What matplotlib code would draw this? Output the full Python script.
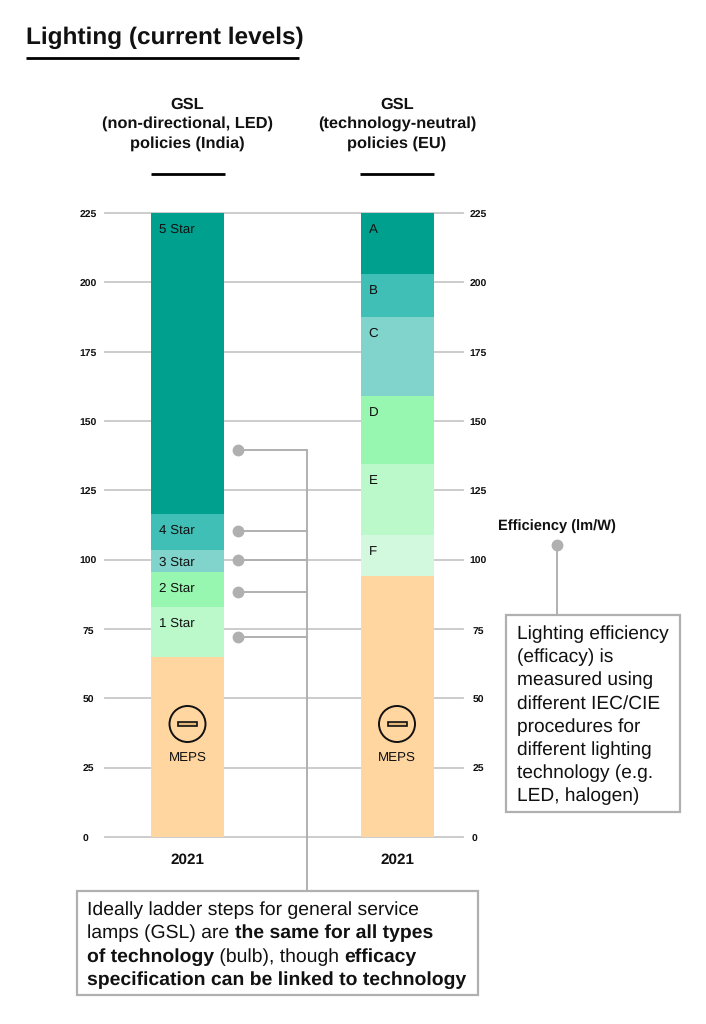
import matplotlib
matplotlib.use("Agg")
import numpy as np
import matplotlib.pyplot as plt
from matplotlib.patches import Circle, Rectangle

plt.rcParams['font.family'] = ['Liberation Sans', 'DejaVu Sans']
plt.rcParams['text.hinting'] = 'no_hinting'

W, H = 706, 1024

ticks = [0, 25, 50, 75, 100, 125, 150, 175, 200, 225]

# top of each step, from bottom to top
india_labels = ['MEPS', '1 Star', '2 Star', '3 Star', '4 Star', '5 Star']
india_tops = [65, 83, 95.5, 103.5, 116.5, 225]
eu_labels = ['MEPS', 'F', 'E', 'D', 'C', 'B', 'A']
eu_tops = [94, 109, 134.5, 159, 187.5, 203, 225]

india_colors = ['#ffd5a0', '#bbf9cb', '#97f7b0', '#80d4cc', '#40bfb6', '#00a08f']
eu_colors = ['#ffd5a0', '#d2f9de', '#bbf9cb', '#97f7b0', '#80d4cc', '#40bfb6', '#00a08f']

headers = ['GSL\n(non-directional, LED)\npolicies (India)', 'GSL\n(technology-neutral)\npolicies (EU)']
year = '2021'

GREY = '#b0b0b0'
GRID = '#c8c8c8'


def draw_ladder(ax, xc, labels, tops, colors):
    bottom = 0
    for i in range(len(tops)):
        ax.bar(xc, tops[i] - bottom, bottom=bottom, width=73, color=colors[i], linewidth=0, zorder=3)
        if labels[i] != 'MEPS':
            # label sits just under the top of its step, 3 Star step is too thin for that
            drop = 4.5 if labels[i] == '3 Star' else 6
            ax.text(xc - 28.5, tops[i] - drop, labels[i], fontsize=9.6, color='#111111',
                    ha='left', va='center', zorder=4)
        bottom = tops[i]


def draw_meps(ov, xc):
    ov.add_patch(Circle((xc, 724), 18, facecolor='none', edgecolor='#111111', linewidth=1.4, zorder=5))
    ov.add_patch(Rectangle((xc - 9.5, 722), 19, 4, facecolor='#e3b878', edgecolor='#111111', linewidth=1.2, zorder=5))
    ov.text(xc, 758, 'MEPS', fontsize=9.6, color='#111111', ha='center', va='center', zorder=5)


def mixed_line(fig, ov, x, y, parts, size):
    # one line of normal and bold pieces, placed one after the other
    r = fig.canvas.get_renderer()
    for s, weight in parts:
        t = ov.text(x, y, s, fontsize=size, fontweight=weight, color='#111111', ha='left', va='baseline', zorder=7)
        x = x + t.get_window_extent(r).width


fig = plt.figure(figsize=(W / 100, H / 100), dpi=100)

# overlay in pixel coordinates for furniture
ov = fig.add_axes([0, 0, 1, 1])
ov.set_xlim(0, W)
ov.set_ylim(H, 0)
ov.axis('off')
ov.set_zorder(2)

# chart, x in pixels, y in lm/W
ax_left, ax_right = 105, 463
ax = fig.add_axes([ax_left / W, 1 - 837 / H, (ax_right - ax_left) / W, 624 / H])
ax.set_xlim(ax_left, ax_right)
ax.set_ylim(0, 225)
ax.set_zorder(1)
for s in ax.spines.values():
    s.set_visible(False)
ax.set_xticks([])
ax.set_yticks([])
for v in ticks:
    ax.axhline(v, color=GRID, linewidth=1.3, zorder=1, clip_on=False)

x_india, x_eu = 187.5, 397
draw_ladder(ax, x_india, india_labels, india_tops, india_colors)
draw_ladder(ax, x_eu, eu_labels, eu_tops, eu_colors)

for v in ticks:
    y = 837 - v * 624 / 225
    ov.text(85 if v == 0 else 88, y + 2, str(v), fontsize=7.5, fontweight='bold', color='#111111', ha='center', va='center')
    ov.text(474 if v == 0 else 478, y + 2, str(v), fontsize=7.5, fontweight='bold', color='#111111', ha='center', va='center')

draw_meps(ov, x_india)
draw_meps(ov, x_eu)

# title
ov.text(26, 38, 'Lighting (current levels)', fontsize=17.6, fontweight='bold', color='#111111', ha='left', va='center')
ov.plot([26, 299], [58, 58], color='black', linewidth=2, solid_capstyle='butt')

# column headers
for xc, h in zip([x_india, x_eu], headers):
    ov.text(xc, 124, h, fontsize=11.8, fontweight='bold', color='#111111', ha='center', va='center', linespacing=1.38)
    ov.plot([xc - 37, xc + 37], [174, 174], color='black', linewidth=2, solid_capstyle='butt')
    ov.text(xc, 860, year, fontsize=11, fontweight='bold', color='#111111', ha='center', va='center')

# callouts on the India ladder
dots_y = [450, 530.5, 560, 591.5, 636.5]
for y in dots_y:
    ov.plot([238, 307], [y, y], color=GREY, linewidth=1.4, zorder=2)
    ov.plot(238, y, 'o', color=GREY, markersize=7.5, zorder=3)
ov.plot([307, 307], [450, 891], color=GREY, linewidth=1.4, zorder=2)

# bottom note
ov.add_patch(Rectangle((77, 891), 401, 104, facecolor='white', edgecolor=GREY, linewidth=1.6, zorder=6))
size = 13.95
mixed_line(fig, ov, 87, 915, [('Ideally ladder steps for general service', 'normal')], size)
mixed_line(fig, ov, 87, 938, [('lamps (GSL) are ', 'normal'), ('the same for all types', 'bold')], size)
mixed_line(fig, ov, 87, 962, [('of technology', 'bold'), (' (bulb), though ', 'normal'), ('efficacy', 'bold')], size)
mixed_line(fig, ov, 87, 985, [('specification can be linked to technology', 'bold')], size)

# efficiency note
ov.text(557, 526, 'Efficiency (lm/W)', fontsize=10.5, fontweight='bold', color='#111111', ha='center', va='center')
ov.plot([557, 557], [545, 615], color=GREY, linewidth=1.4, zorder=2)
ov.plot(557, 545, 'o', color=GREY, markersize=7.5, zorder=3)
ov.add_patch(Rectangle((506, 615), 174, 197, facecolor='white', edgecolor=GREY, linewidth=1.6, zorder=6))
note = ['Lighting efficiency', '(efficacy) is', 'measured using', 'different IEC/CIE',
        'procedures for', 'different lighting', 'technology (e.g.', 'LED, halogen)']
for i, line in enumerate(note):
    ov.text(517, 639 + i * 23.2, line, fontsize=13.75, color='#111111', ha='left', va='baseline', zorder=7)

fig.savefig('out.png', dpi=100, facecolor='white')
